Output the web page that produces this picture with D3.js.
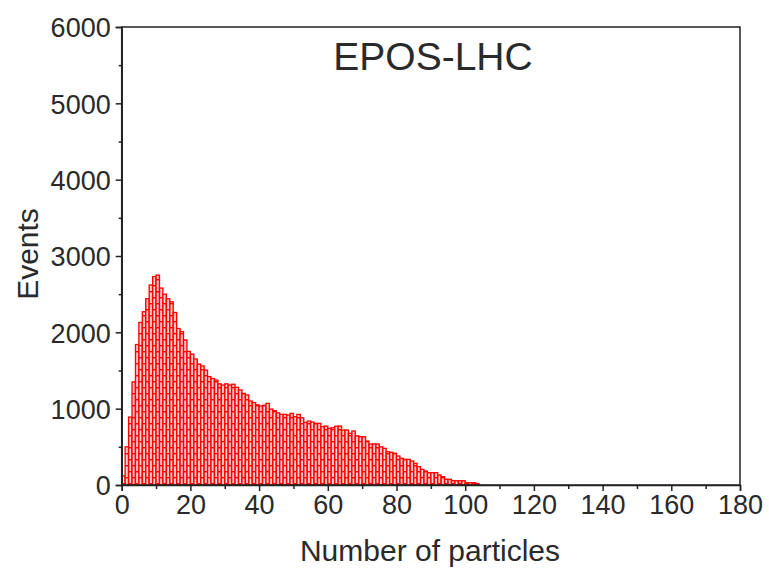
<!DOCTYPE html>
<html>
<head>
<meta charset="utf-8">
<script src="https://cdn.jsdelivr.net/npm/d3@7"></script>
<style>
  body { margin: 0; background: #fff; }
  svg text { font-family: "Liberation Sans", Arial, sans-serif; fill: #2a2a2a; }
</style>
</head>
<body>
<div id="chart"></div>
<script>
// histogram: events per number of particles (bin width 1, bins start at 0)
const binStart = 0;
const binWidth = 1;
const counts = [
  120, 500, 890, 1350, 1840, 2130, 2270, 2440, 2620, 2730,
  2750, 2580, 2500, 2440, 2400, 2260, 2050, 2010, 1900, 1750,
  1715, 1650, 1585, 1560, 1505, 1420, 1395, 1375, 1325, 1310,
  1325, 1310, 1320, 1280, 1245, 1200, 1180, 1100, 1080, 1050,
  1035, 1045, 1070, 995, 975, 945, 925, 925, 915, 938,
  895, 925, 880, 820, 838, 825, 807, 807, 765, 772,
  742, 750, 770, 772, 720, 720, 677, 707, 645, 632,
  632, 576, 537, 537, 537, 500, 480, 436, 428, 415,
  380, 349, 336, 336, 314, 284, 240, 205, 183, 161,
  161, 161, 131, 109, 75, 75, 56, 56, 56, 56,
  30, 30, 30, 20
];
const xTicks = [0, 20, 40, 60, 80, 100, 120, 140, 160, 180];
const yTicks = [0, 1000, 2000, 3000, 4000, 5000, 6000];
const title = "EPOS-LHC";
const xTitle = "Number of particles";
const yTitle = "Events";

const bins = counts.map((c, i) => ({ x0: binStart + i * binWidth, x1: binStart + (i + 1) * binWidth, count: c, i }));

const width = 769, height = 571;
const margin = { top: 27, right: 29, bottom: 86, left: 121.7 };

const svg = d3.select("#chart").append("svg")
  .attr("width", width)
  .attr("height", height);

const x = d3.scaleLinear().domain([0, 180]).range([margin.left, width - margin.right]);
const y = d3.scaleLinear().domain([0, 6000]).range([height - margin.bottom, margin.top]);

// brick pattern like the origin fill (offset every other bar)
const defs = svg.append("defs");
["even", "odd"].forEach((k, j) => {
  const p = defs.append("pattern")
    .attr("id", "brick-" + k)
    .attr("patternUnits", "userSpaceOnUse")
    .attr("width", 800)
    .attr("height", 12)
    .attr("patternTransform", "translate(0," + (j * 6 + 3) + ")");
  p.append("rect").attr("x", 0).attr("y", 0).attr("width", 800).attr("height", 1.4).attr("fill", "#ff0000");
});

const bars = svg.append("g").selectAll("g")
  .data(bins)
  .join("g");

bars.append("rect")
  .attr("x", d => x(d.x0))
  .attr("y", d => y(d.count))
  .attr("width", d => x(d.x1) - x(d.x0))
  .attr("height", d => y(0) - y(d.count))
  .attr("fill", "#ffa8a8");

bars.append("line")
  .attr("x1", d => (x(d.x0) + x(d.x1)) / 2)
  .attr("x2", d => (x(d.x0) + x(d.x1)) / 2)
  .attr("y1", d => y(d.count))
  .attr("y2", y(0))
  .attr("stroke", "#ffecec")
  .attr("stroke-width", 0.8);

bars.append("rect")
  .attr("x", d => x(d.x0))
  .attr("y", d => y(d.count))
  .attr("width", d => x(d.x1) - x(d.x0))
  .attr("height", d => y(0) - y(d.count))
  .attr("fill", d => d.i % 2 ? "url(#brick-odd)" : "url(#brick-even)");

bars.append("rect")
  .attr("x", d => x(d.x0))
  .attr("y", d => y(d.count))
  .attr("width", d => x(d.x1) - x(d.x0))
  .attr("height", d => y(0) - y(d.count))
  .attr("fill", "none")
  .attr("stroke", "#ff0000")
  .attr("stroke-width", 1.3);

// frame
svg.append("rect")
  .attr("x", x(0)).attr("y", y(6000))
  .attr("width", x(180) - x(0)).attr("height", y(0) - y(6000))
  .attr("fill", "none")
  .attr("stroke", "#222")
  .attr("stroke-width", 1.5);

// axes
const xAxis = svg.append("g")
  .attr("transform", `translate(0,${y(0)})`)
  .call(d3.axisBottom(x).tickValues(xTicks).tickSize(6).tickPadding(4).tickFormat(d3.format("d")));
svg.append("g")
  .attr("transform", `translate(0,${y(0)})`)
  .call(d3.axisBottom(x).tickValues(d3.range(10, 180, 20)).tickSize(4).tickFormat(""))
  .call(g => g.select(".domain").remove());

const yAxis = svg.append("g")
  .attr("transform", `translate(${x(0)},0)`)
  .call(d3.axisLeft(y).tickValues(yTicks).tickSize(6).tickPadding(5).tickFormat(d3.format("d")));
svg.append("g")
  .attr("transform", `translate(${x(0)},0)`)
  .call(d3.axisLeft(y).tickValues(d3.range(500, 6000, 1000)).tickSize(3).tickFormat(""))
  .call(g => g.select(".domain").remove());

svg.selectAll(".domain").attr("stroke", "#222").attr("stroke-width", 1.5);
svg.selectAll(".tick line").attr("stroke", "#222").attr("stroke-width", 1.5);
xAxis.selectAll("text").style("font-size", "27px").attr("fill", "#2a2a2a");
yAxis.selectAll("text").style("font-size", "27px").attr("fill", "#2a2a2a").attr("dy", "0.36em");

// titles
svg.append("text")
  .attr("x", 433).attr("y", 70)
  .attr("text-anchor", "middle")
  .style("font-size", "39px")
  .text(title);

svg.append("text")
  .attr("x", 430).attr("y", 561)
  .attr("text-anchor", "middle")
  .style("font-size", "30px")
  .text(xTitle);

svg.append("text")
  .attr("transform", "translate(38,254) rotate(-90)")
  .attr("text-anchor", "middle")
  .style("font-size", "30px")
  .text(yTitle);
</script>
</body>
</html>
